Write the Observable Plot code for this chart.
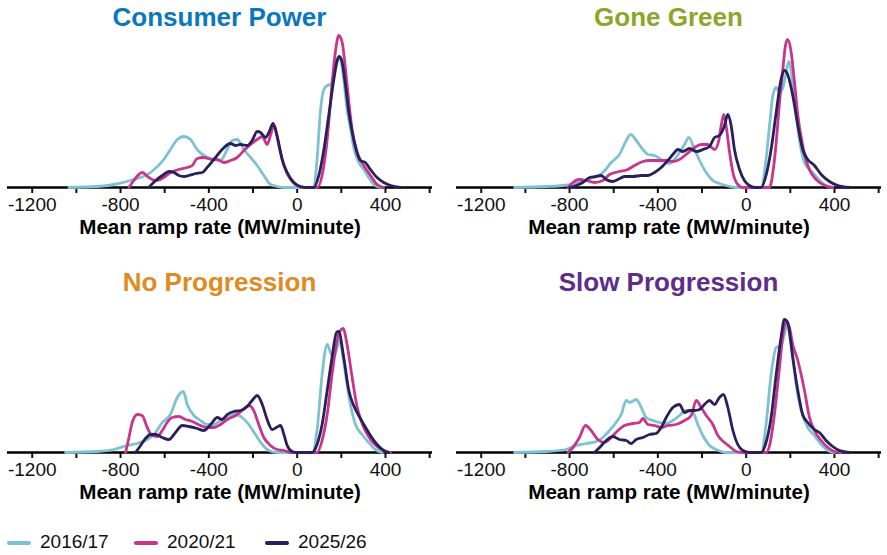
<!DOCTYPE html>
<html><head><meta charset="utf-8">
<script src="https://cdn.jsdelivr.net/npm/d3@7"></script>
<script src="https://cdn.jsdelivr.net/npm/@observablehq/plot@0.6"></script>
<style>
body{margin:0;background:#fff;font-family:"Liberation Sans",Arial,sans-serif;}
#wrap{position:relative;width:887px;height:555px;overflow:hidden;background:#fff;}
.panel{position:absolute;width:438px;height:245px;}
.panel svg{position:absolute;left:0;top:0;}
.title{position:absolute;left:7px;width:425px;top:2px;text-align:center;font-weight:bold;font-size:26px;line-height:30px;white-space:nowrap;}
svg [aria-label^="x-axis"] line, svg [aria-label^="x-axis"] path{stroke-width:2px;}
.leg{position:absolute;top:531px;font-size:19px;line-height:22px;color:#111;white-space:nowrap;}
.sw{position:absolute;top:10px;width:24px;height:4px;border-radius:2px;}
.lt{position:absolute;left:33px;top:0;}
</style>
</head><body><div id="wrap"></div>
<script>
const series = ["2016/17", "2020/21", "2025/26"];
const seriesColors = ["#7dc2d4", "#c8358b", "#2a1f5d"];
const scenarios = ["Consumer Power", "Gone Green", "No Progression", "Slow Progression"];
const titleColors = ["#0b77bd", "#8ba62a", "#e28a22", "#5e2d8c"];
const xTicks = [-1200, -1000, -800, -600, -400, -200, 0, 200, 400, 600];
const xLabel = "Mean ramp rate (MW/minute)";

// [mean ramp rate, relative density]
const consumer16 = [[-1034,0],[-906,1],[-830,3],[-755,7],[-664,15],[-604,28],[-574,38],[-543,48],[-513,51],[-483,48],[-453,38],[-423,32],[-377,28],[-347,27],[-317,38],[-294,47],[-272,48],[-241,38],[-211,30],[-181,22],[-151,12],[-121,3],[-91,1],[-60,0],[75,0],[90,28],[106,78],[121,98],[136,102],[151,103],[166,112],[181,125],[193,130],[211,108],[226,78],[241,60],[256,40],[279,25],[302,18],[324,10],[347,3],[377,0]];
const consumer20 = [[-762,0],[-740,7],[-702,15],[-672,10],[-641,7],[-604,10],[-574,15],[-536,18],[-498,20],[-475,22],[-453,29],[-423,30],[-385,28],[-362,28],[-332,25],[-302,27],[-272,30],[-241,37],[-211,43],[-181,48],[-158,51],[-136,43],[-121,52],[-106,62],[-83,42],[-60,22],[-30,8],[0,2],[30,0],[90,0],[121,22],[136,48],[151,85],[166,122],[181,147],[188,152],[204,145],[219,118],[234,85],[249,58],[272,35],[302,22],[332,12],[362,3],[392,0]];
const consumer25 = [[-672,0],[-641,7],[-611,12],[-581,16],[-558,15],[-536,12],[-513,11],[-491,12],[-460,14],[-430,15],[-408,20],[-370,30],[-340,38],[-302,44],[-279,42],[-257,43],[-226,42],[-204,47],[-181,56],[-166,55],[-143,50],[-128,55],[-109,64],[-91,52],[-68,28],[-45,15],[-15,5],[15,1],[45,0],[75,0],[98,12],[121,38],[143,72],[166,108],[181,127],[191,131],[204,125],[219,102],[234,75],[256,48],[287,27],[309,25],[332,18],[362,10],[392,5],[423,2],[468,0]];

const green16 = [[-1049,0],[-906,1],[-830,2],[-755,5],[-694,10],[-649,15],[-611,25],[-574,33],[-543,47],[-524,53],[-498,47],[-468,38],[-445,33],[-415,32],[-385,28],[-347,24],[-325,28],[-302,35],[-279,43],[-260,50],[-234,38],[-211,27],[-181,15],[-151,7],[-121,4],[-91,2],[-45,0],[68,0],[90,28],[106,62],[121,92],[136,100],[151,95],[169,102],[181,115],[193,126],[211,105],[226,75],[241,48],[264,25],[287,18],[309,13],[332,7],[362,2],[392,0]];
const green20 = [[-807,0],[-785,5],[-755,8],[-724,7],[-687,5],[-649,7],[-619,13],[-574,16],[-536,18],[-506,22],[-468,26],[-438,27],[-392,27],[-362,27],[-332,26],[-302,28],[-272,33],[-234,40],[-204,43],[-174,43],[-143,38],[-124,47],[-113,62],[-101,73],[-91,62],[-75,35],[-60,15],[-38,3],[-15,0],[106,0],[121,15],[136,45],[151,85],[166,118],[178,142],[188,148],[204,135],[219,105],[234,72],[256,42],[279,22],[302,12],[332,5],[370,1],[392,0]];
const green25 = [[-800,0],[-770,2],[-740,5],[-709,10],[-679,11],[-657,12],[-634,8],[-604,6],[-581,8],[-551,11],[-513,11],[-475,12],[-445,12],[-415,15],[-385,20],[-355,27],[-332,33],[-309,38],[-287,36],[-257,39],[-226,36],[-196,38],[-166,41],[-143,50],[-121,52],[-98,62],[-83,73],[-68,62],[-53,38],[-30,18],[-8,7],[15,2],[38,0],[68,0],[90,12],[113,38],[136,75],[158,108],[173,117],[188,113],[211,92],[234,62],[256,38],[279,28],[309,22],[340,13],[377,6],[415,2],[468,0]];

const noProg16 = [[-1049,0],[-906,1],[-830,3],[-770,7],[-724,9],[-679,13],[-641,20],[-611,30],[-574,38],[-543,55],[-516,61],[-498,48],[-468,37],[-438,32],[-408,28],[-377,28],[-347,32],[-309,37],[-279,38],[-249,35],[-219,28],[-189,18],[-158,8],[-128,2],[-91,0],[68,0],[90,22],[113,78],[136,108],[151,100],[166,95],[181,105],[193,112],[208,95],[219,78],[241,48],[264,28],[294,18],[324,10],[355,3],[385,0]];
const noProg20 = [[-777,0],[-762,15],[-747,30],[-724,38],[-702,37],[-679,25],[-657,17],[-634,16],[-611,22],[-589,30],[-566,35],[-536,36],[-506,33],[-475,31],[-438,27],[-408,25],[-377,25],[-347,28],[-317,33],[-279,37],[-249,42],[-219,47],[-199,43],[-174,28],[-151,15],[-121,7],[-91,3],[-60,2],[-30,0],[90,0],[113,12],[136,38],[158,78],[181,112],[196,122],[208,124],[226,108],[249,75],[272,45],[302,25],[332,13],[362,6],[392,2],[423,0]];
const noProg25 = [[-732,0],[-709,7],[-687,14],[-664,18],[-641,18],[-611,15],[-581,13],[-551,20],[-521,27],[-491,26],[-453,24],[-423,22],[-392,28],[-362,35],[-340,33],[-317,38],[-287,41],[-257,42],[-226,46],[-204,52],[-181,57],[-158,48],[-136,33],[-113,23],[-94,25],[-75,27],[-60,18],[-45,7],[-23,1],[0,0],[68,0],[90,8],[113,28],[136,62],[158,95],[178,120],[188,121],[211,95],[234,62],[256,47],[279,37],[302,28],[332,17],[362,8],[392,2],[415,0]];

const slowProg16 = [[-1049,0],[-906,1],[-815,3],[-770,7],[-724,9],[-679,11],[-649,15],[-619,22],[-589,30],[-566,38],[-543,52],[-528,50],[-498,53],[-475,45],[-453,35],[-423,32],[-392,30],[-362,29],[-332,32],[-302,37],[-272,42],[-241,40],[-219,28],[-196,17],[-166,7],[-136,3],[-91,0],[68,0],[90,28],[113,78],[136,105],[158,107],[173,118],[184,127],[204,108],[226,68],[249,42],[279,25],[309,17],[340,8],[370,2],[400,0]];
const slowProg20 = [[-807,0],[-785,5],[-755,15],[-728,27],[-702,22],[-672,13],[-641,10],[-611,15],[-581,22],[-551,27],[-513,29],[-483,30],[-468,34],[-445,28],[-415,27],[-385,25],[-355,27],[-317,28],[-279,32],[-249,37],[-226,52],[-204,45],[-181,37],[-151,28],[-128,17],[-98,10],[-75,6],[-45,1],[-15,0],[90,0],[106,7],[128,38],[151,85],[169,122],[181,130],[196,125],[211,108],[234,92],[249,78],[264,62],[287,35],[309,22],[340,12],[370,5],[400,1],[430,0]];
const slowProg25 = [[-687,0],[-664,5],[-634,12],[-604,16],[-574,13],[-543,12],[-521,9],[-498,13],[-468,15],[-438,18],[-408,19],[-385,25],[-362,35],[-332,45],[-302,48],[-279,40],[-257,42],[-234,42],[-211,43],[-189,48],[-166,52],[-143,48],[-121,55],[-103,58],[-83,45],[-60,22],[-38,8],[-15,2],[15,0],[68,0],[90,10],[113,35],[136,78],[158,115],[173,133],[188,130],[211,95],[234,62],[256,38],[279,30],[309,23],[332,20],[362,12],[392,6],[423,2],[468,0]];

const scenarioData = [
  [consumer16, consumer20, consumer25],
  [green16, green20, green25],
  [noProg16, noProg20, noProg25],
  [slowProg16, slowProg20, slowProg25]
];

const panelPos = [[0, 0], [449, 0], [0, 265], [449, 265]];
const wrap = document.getElementById("wrap");

scenarios.forEach((name, i) => {
  const rows = [];
  scenarioData[i].forEach((pts, j) => pts.forEach(([x, y]) => rows.push({x, y, series: series[j]})));
  const div = document.createElement("div");
  div.className = "panel";
  div.style.left = panelPos[i][0] + "px";
  div.style.top = panelPos[i][1] + "px";
  const svg = Plot.plot({
    width: 438, height: 245,
    marginLeft: 7, marginRight: 6, marginTop: 34, marginBottom: 58,
    x: {domain: [-1312, 613], ticks: xTicks, tickFormat: d => (d % 400 === 0 ? String(d) : ""), tickSize: 6, tickPadding: 4, label: null},
    y: {domain: [0, 153], axis: null},
    color: {domain: series, range: seriesColors},
    style: {fontFamily: "'Liberation Sans', Arial, sans-serif", fontSize: "19px", color: "#111", background: "transparent", overflow: "visible"},
    marks: [
      Plot.ruleY([0], {stroke: "#000", strokeWidth: 2.5}),
      Plot.line(rows, {x: "x", y: "y", z: "series", stroke: "series", strokeWidth: 2.8, curve: "monotone-x"}),
      Plot.text([xLabel], {frameAnchor: "bottom", dy: 46, text: d => d, fontWeight: "bold", fontSize: 20.6, fill: "#000"})
    ]
  });
  div.appendChild(svg);
  const t = document.createElement("div");
  t.className = "title";
  t.textContent = name;
  t.style.color = titleColors[i];
  div.appendChild(t);
  wrap.appendChild(div);
});

const legLeft = [7, 134, 265];
series.forEach((s, j) => {
  const item = document.createElement("div");
  item.className = "leg";
  item.style.left = legLeft[j] + "px";
  const sw = document.createElement("div");
  sw.className = "sw";
  sw.style.background = seriesColors[j];
  const lt = document.createElement("div");
  lt.className = "lt";
  lt.textContent = s;
  item.appendChild(sw);
  item.appendChild(lt);
  wrap.appendChild(item);
});
</script>
</body></html>
